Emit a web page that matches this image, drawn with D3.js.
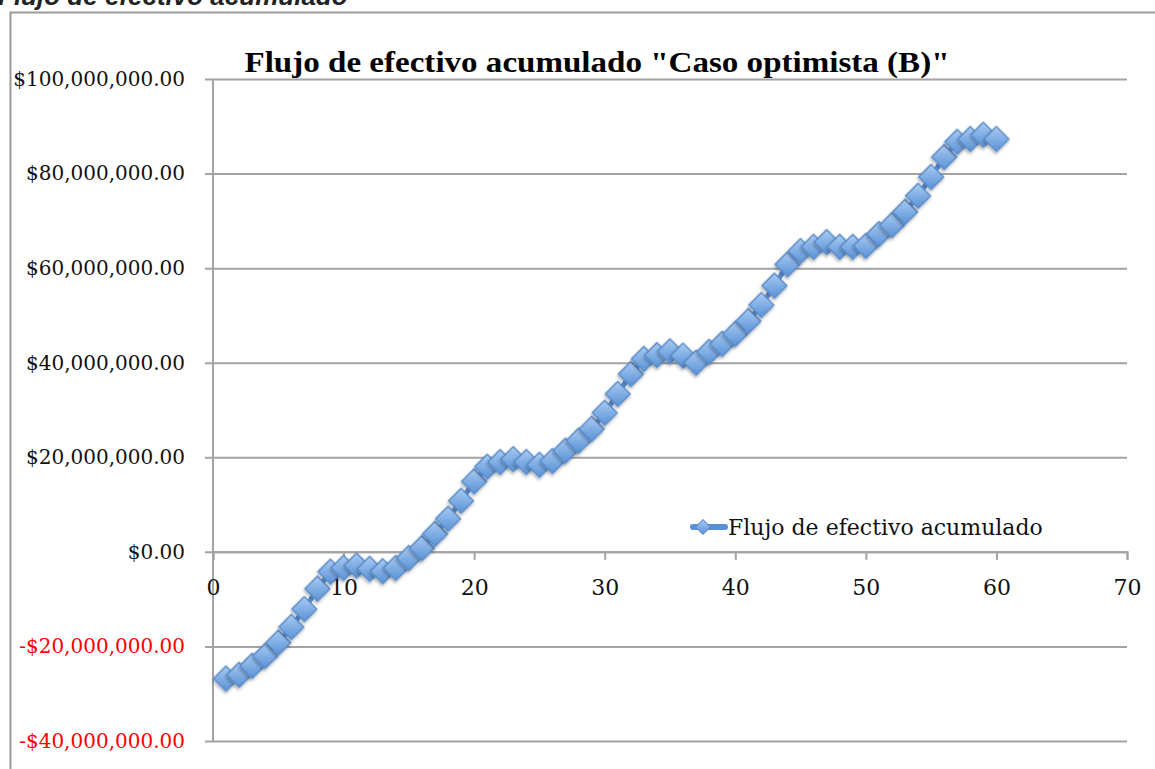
<!DOCTYPE html>
<html>
<head>
<meta charset="utf-8">
<style>
  body { margin: 0; background: #fff; }
  svg { display: block; }
</style>
</head>
<body>
<svg width="1155" height="769"></svg>
<script src="https://d3js.org/d3.v7.min.js"></script>
<script>
// cumulative cash flow, period 1..60 (millions)
var periods = d3.range(1, 61);
var flujo = [
  -26.8, -26.0, -24.1, -22.0, -19.2, -15.9, -12.1, -7.8, -4.2, -3.4,
  -2.9, -3.6, -4.1, -3.4, -1.3, 0.8, 3.8, 7.0, 10.8, 14.9,
  18.0, 19.0, 19.6, 19.0, 18.4, 19.2, 21.4, 23.5, 26.0, 29.4,
  33.4, 37.6, 40.8, 41.6, 42.4, 41.5, 40.0, 42.3, 44.0, 46.1,
  48.8, 52.2, 56.3, 60.8, 63.6, 64.5, 65.5, 64.5, 64.5, 64.7,
  67.2, 69.1, 71.9, 75.3, 79.3, 83.5, 86.7, 87.3, 88.2, 87.3
];
var xTicks = [0, 10, 20, 30, 40, 50, 60, 70];
var yTicks = [-40, -20, 0, 20, 40, 60, 80, 100];
var titulo = "Flujo de efectivo acumulado \"Caso optimista (B)\"";
var serie = "Flujo de efectivo acumulado";
var encabezado = "Flujo de efectivo acumulado";

var data = periods.map(function(p, i) { return {x: p, y: flujo[i] * 1e6}; });

var svg = d3.select("svg");
var grid = "#a3a3a3";

var x = d3.scaleLinear().domain([0, 70]).range([213, 1127]);
var y = d3.scaleLinear().domain([-40e6, 100e6]).range([741, 79]);

var defs = svg.append("defs");
var grad = defs.append("linearGradient")
    .attr("id", "mk").attr("x1", 0).attr("y1", 0).attr("x2", 1).attr("y2", 1);
grad.append("stop").attr("offset", "0%").attr("stop-color", "#a9cbf3");
grad.append("stop").attr("offset", "100%").attr("stop-color", "#5891d6");
var sh = defs.append("filter").attr("id", "shadow")
    .attr("x", "-50%").attr("y", "-50%").attr("width", "200%").attr("height", "200%");
sh.append("feDropShadow").attr("dx", 1).attr("dy", 2).attr("stdDeviation", 1.5)
    .attr("flood-color", "#000").attr("flood-opacity", 0.3);

// heading cut off at the top
svg.append("text")
    .attr("x", -2).attr("y", 5)
    .attr("font-family", "Liberation Sans, Arial, sans-serif")
    .attr("font-weight", "bold").attr("font-style", "italic")
    .attr("font-size", 26).attr("fill", "#222")
    .text(encabezado);

// outer chart frame
svg.append("rect")
    .attr("x", 10.5).attr("y", 12.5).attr("width", 1300).attr("height", 900)
    .attr("fill", "none").attr("stroke", "#9a9a9a").attr("stroke-width", 2);

// chart title
svg.append("text")
    .attr("x", 597).attr("y", 72)
    .attr("text-anchor", "middle")
    .attr("font-family", "Liberation Serif, serif")
    .attr("font-weight", "bold").attr("font-size", 29)
    .attr("textLength", 705).attr("lengthAdjust", "spacingAndGlyphs")
    .text(titulo);

// horizontal gridlines with y ticks
var gy = svg.append("g")
    .attr("transform", "translate(213,0)")
    .call(d3.axisLeft(y).tickValues(yTicks.map(function(d) { return d * 1e6; }))
      .tickSize(-914).tickPadding(28)
      .tickFormat(function(d) { return (d < 0 ? "-$" : "$") + d3.format(",.2f")(Math.abs(d)); }));
gy.select(".domain").remove();
gy.selectAll(".tick line").attr("stroke", grid).attr("stroke-width", 2).attr("x1", -8);
gy.selectAll(".tick text")
    .attr("font-family", "DejaVu Serif, serif").attr("font-size", 20)
    .attr("fill", function(d) { return d < 0 ? "#ff0000" : "#111"; });

// y axis line
svg.append("line")
    .attr("x1", 213).attr("x2", 213).attr("y1", y(100e6)).attr("y2", y(-40e6))
    .attr("stroke", grid).attr("stroke-width", 2);

// x axis at zero
var gx = svg.append("g")
    .attr("transform", "translate(0," + y(0) + ")")
    .call(d3.axisBottom(x).tickValues(xTicks).tickSize(8).tickPadding(20));
gx.select(".domain").attr("stroke", grid).attr("stroke-width", 2);
gx.selectAll(".tick line").attr("stroke", grid).attr("stroke-width", 2);
gx.selectAll(".tick text")
    .attr("font-family", "DejaVu Serif, serif").attr("font-size", 22).attr("fill", "#111");

// series line and markers
var line = d3.line().x(function(d) { return x(d.x); }).y(function(d) { return y(d.y); });
svg.append("path")
    .datum(data)
    .attr("d", line)
    .attr("fill", "none").attr("stroke", "#5b8fd3").attr("stroke-width", 5)
    .attr("stroke-linejoin", "round");

var diamond = d3.symbol().type(d3.symbolSquare).size(310);
svg.append("g").selectAll("path")
    .data(data)
    .join("path")
    .attr("d", diamond)
    .attr("transform", function(d) { return "translate(" + x(d.x) + "," + y(d.y) + ") rotate(45)"; })
    .attr("fill", "url(#mk)")
    .attr("stroke", "#5a8bc8").attr("stroke-width", 1.5)
    .attr("filter", "url(#shadow)");

// legend
var lg = svg.append("g").attr("transform", "translate(0,527)");
lg.append("line")
    .attr("x1", 693).attr("x2", 725).attr("y1", 0).attr("y2", 0)
    .attr("stroke", "#5b8fd3").attr("stroke-width", 6).attr("stroke-linecap", "round");
lg.append("path")
    .attr("d", d3.symbol().type(d3.symbolSquare).size(110))
    .attr("transform", "translate(703,0) rotate(45)")
    .attr("fill", "url(#mk)").attr("stroke", "#5a8bc8").attr("stroke-width", 1);
lg.append("text")
    .attr("x", 728).attr("y", 8)
    .attr("font-family", "DejaVu Serif, serif").attr("font-size", 22).attr("fill", "#111")
    .text(serie);
</script>
</body>
</html>
